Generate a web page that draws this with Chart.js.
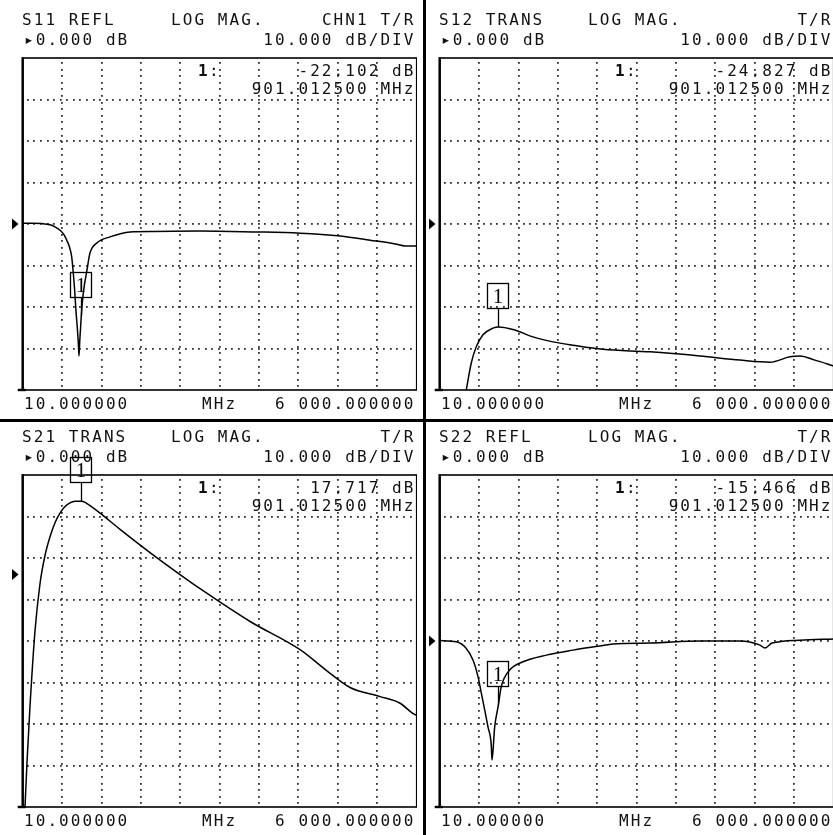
<!DOCTYPE html>
<html><head><meta charset="utf-8">
<script src="https://cdn.jsdelivr.net/npm/chart.js@4.4.1/dist/chart.umd.min.js"></script>
<style>
html,body{margin:0;padding:0;background:#fff;overflow:hidden;width:833px;height:835px;}
.panel{position:absolute;width:417px;height:417px;}
.panel canvas{position:absolute;left:0;top:0;}
.t{position:absolute;font-family:'DejaVu Sans Mono',monospace;font-size:16px;letter-spacing:2.07px;line-height:20px;white-space:pre;color:#111;}
.b{font-weight:bold;}
.divv{position:absolute;left:423px;top:0;width:3px;height:835px;background:#000;}
.divh{position:absolute;left:0;top:419px;width:833px;height:3px;background:#000;}
</style></head><body>
<div class="divv"></div><div class="divh"></div>
<script>
// ---------- data ----------
const xStartMHz = 10;
const xStopMHz = 6000;
const xDivisions = 10;
const yDivisions = 8;
const scalePerDiv = 10;
const refLevel = 0;
const refPositions = [4, 4, 5.6, 4];

const paramLabels = ['S11 REFL', 'S12 TRANS', 'S21 TRANS', 'S22 REFL'];
const formatLabels = ['LOG MAG.', 'LOG MAG.', 'LOG MAG.', 'LOG MAG.'];
const chanLabels = ['CHN1 T/R', 'T/R', 'T/R', 'T/R'];
const startLabel = '10.000000';
const unitLabel = 'MHz';
const stopLabel = '6 000.000000';

const markerNumber = '1';
const markerFreqMHz = 901.0125;
const markerFreqLabel = '901.012500 MHz';
const markerValues = [-22.102, -24.827, 17.717, -15.466];

const s11Freq = [10, 150, 300, 425, 500, 577, 640, 679, 720, 755, 779, 800, 820, 840, 855, 866, 878, 890, 901, 925, 950, 983, 1033, 1135, 1337, 1641, 2000, 2705, 3500, 4228, 4837, 5293, 5673, 5825, 6000];
const s11Db   = [0.2, 0.2, 0.1, -0.2, -0.7, -1.5, -2.6, -3.9, -5.5, -7.9, -11.8, -16, -21, -25, -28.5, -31.8, -28, -25, -22.1, -17.5, -14.5, -11.5, -7.0, -4.6, -3.1, -1.9, -1.8, -1.7, -1.9, -2.2, -2.9, -3.9, -4.8, -5.3, -5.3];

const s12Freq = [414, 490, 566, 668, 820, 901, 1124, 1428, 1732, 2036, 2492, 3207, 3967, 4575, 5031, 5335, 5487, 5715, 6000];
const s12Db   = [-40, -33.5, -29.6, -26.7, -25.1, -24.8, -25.4, -27.2, -28.4, -29.2, -30.2, -30.8, -31.8, -32.8, -33.3, -32.0, -31.8, -32.8, -34.2];

const s21Freq = [45, 75, 121, 197, 273, 349, 425, 501, 577, 653, 729, 805, 901, 958, 1034, 1186, 1490, 1946, 2402, 2707, 3467, 4227, 4683, 4987, 5443, 5747, 5945, 6000];
const s21Db   = [-56, -45.3, -31.7, -13.6, -2.2, 4.6, 9.1, 12.5, 14.8, 16.4, 17.3, 17.7, 17.7, 17.4, 16.6, 14.8, 10.9, 5.3, 0.0, -3.4, -11.3, -18.1, -23.8, -27.2, -29.4, -31.0, -33.5, -33.9];

const s22Freq = [10, 262, 414, 516, 592, 642, 694, 744, 794, 805, 846, 901, 946, 1074, 1276, 1631, 2037, 2442, 2645, 3207, 3967, 4575, 4879, 4955, 5062, 5487, 6000];
const s22Db   = [0.1, -0.2, -1.8, -4.6, -8.6, -12.5, -16.6, -20.7, -25.1, -28.7, -20.7, -15.5, -11.0, -7.0, -5.0, -3.4, -2.2, -1.2, -0.7, -0.5, 0, 0, -1.0, -1.7, -0.5, 0.2, 0.5];

const traceFreqs = [s11Freq, s12Freq, s21Freq, s22Freq];
const traceDbs = [s11Db, s12Db, s21Db, s22Db];

// ---------- layout ----------
const panelOrigins = [[0, 0], [417, 0], [0, 417], [417, 417]];
const PANEL = 417;

function addText(parent, str, left, baseline, opts) {
  const d = document.createElement('div');
  d.className = 't' + (opts && opts.bold ? ' b' : '');
  d.textContent = str;
  d.style.top = (baseline - 15.5) + 'px';
  if (opts && opts.right !== undefined) { d.style.right = (PANEL - opts.right - 2.5) + 'px'; }
  else d.style.left = (left - 1) + 'px';
  parent.appendChild(d);
  return d;
}

const vnaPlugin = {
  id: 'vna',
  beforeDatasetsDraw(chart) {
    const {ctx, chartArea: a, scales: {x, y}} = chart;
    ctx.save();
    ctx.fillStyle = '#333';
    const xt = x.ticks;
    for (let i = 1; i < xt.length - 1; i++) {
      const px = Math.round(x.getPixelForValue(xt[i].value));
      for (let py = a.top + 4; py < a.bottom - 1; py += 6.6) ctx.fillRect(px - 1, Math.round(py), 1.8, 1.8);
    }
    const yt = y.ticks;
    for (let i = 1; i < yt.length - 1; i++) {
      const py = Math.round(y.getPixelForValue(yt[i].value));
      for (let px = a.left + 4; px < a.right - 1; px += 6.6) ctx.fillRect(Math.round(px), py - 1, 1.8, 1.8);
    }
    ctx.restore();
  },
  afterDatasetsDraw(chart, args, o) {
    const {ctx, chartArea: a, scales: {x, y}} = chart;
    ctx.save();
    ctx.strokeStyle = '#000';
    ctx.fillStyle = '#000';
    ctx.lineWidth = 1.6;
    ctx.strokeRect(a.left, a.top, a.right - a.left, a.bottom - a.top);
    ctx.fillRect(a.left - 1.2, a.top - 0.8, 2.4, a.bottom - a.top + 1.6);
    ctx.fillRect(a.left - 5, a.bottom - 1.2, 8, 2.4);
    // reference triangle
    const ry = y.getPixelForValue(o.ref);
    ctx.beginPath();
    ctx.moveTo(12, ry - 5.5); ctx.lineTo(18.5, ry); ctx.lineTo(12, ry + 5.5); ctx.closePath(); ctx.fill();
    // marker
    const mx = x.getPixelForValue(o.mf), my = y.getPixelForValue(o.mv);
    ctx.lineWidth = 1.3;
    ctx.strokeRect(Math.round(mx) - 11 + 0.5, Math.round(my) - 44 + 0.5, 21, 25);
    ctx.beginPath(); ctx.moveTo(Math.round(mx) + 0.5, Math.round(my) - 19); ctx.lineTo(Math.round(mx) + 0.5, my); ctx.stroke();
    ctx.font = '21px "Liberation Serif", serif';
    ctx.textAlign = 'center'; ctx.textBaseline = 'alphabetic';
    ctx.fillText(o.label, Math.round(mx), Math.round(my) - 24);
    ctx.restore();
  }
};

for (let p = 0; p < 4; p++) {
  const wrap = document.createElement('div');
  wrap.className = 'panel';
  wrap.style.left = panelOrigins[p][0] + 'px';
  wrap.style.top = panelOrigins[p][1] + 'px';
  document.body.appendChild(wrap);
  const cv = document.createElement('canvas');
  cv.width = PANEL; cv.height = PANEL;
  cv.style.width = PANEL + 'px'; cv.style.height = PANEL + 'px';
  wrap.appendChild(cv);

  const yMin = refLevel - refPositions[p] * scalePerDiv;
  const yMax = yMin + yDivisions * scalePerDiv;
  const pts = traceFreqs[p].map((f, i) => ({x: f, y: traceDbs[p][i]}));

  new Chart(cv, {
    type: 'line',
    data: {datasets: [{data: pts, borderColor: '#000', borderWidth: 1.5, pointRadius: 0, cubicInterpolationMode: 'monotone', fill: false}]},
    options: {
      responsive: false, animation: false, events: [],
      layout: {padding: {left: 22.7, top: 58, right: 0.3, bottom: 27}},
      plugins: {legend: {display: false}, tooltip: {enabled: false},
        vna: {ref: refLevel, mf: markerFreqMHz, mv: markerValues[p], label: markerNumber}},
      scales: {
        x: {type: 'linear', display: false, min: xStartMHz, max: xStopMHz,
          afterBuildTicks: s => { s.ticks = Array.from({length: xDivisions + 1}, (_, i) => ({value: xStartMHz + (xStopMHz - xStartMHz) * i / xDivisions})); }},
        y: {type: 'linear', display: false, min: yMin, max: yMax,
          afterBuildTicks: s => { s.ticks = Array.from({length: yDivisions + 1}, (_, i) => ({value: yMin + scalePerDiv * i})); }}
      }
    },
    plugins: [vnaPlugin]
  });

  addText(wrap, paramLabels[p], 23, 25);
  addText(wrap, formatLabels[p], 172, 25);
  addText(wrap, chanLabels[p], 0, 25, {right: 413});
  addText(wrap, '\u25B8' + refLevel.toFixed(3) + ' dB', 25, 45);
  addText(wrap, scalePerDiv.toFixed(3) + ' dB/DIV', 0, 45, {right: 413});
  addText(wrap, markerNumber, 199, 76, {bold: true});
  addText(wrap, ':', 210, 76);
  addText(wrap, markerValues[p].toFixed(3) + ' dB', 0, 76, {right: 413});
  addText(wrap, markerFreqLabel, 0, 94, {right: 413});
  addText(wrap, startLabel, 25, 409);
  addText(wrap, unitLabel, 203, 409);
  addText(wrap, stopLabel, 0, 409, {right: 413});
}
</script>
</body></html>
